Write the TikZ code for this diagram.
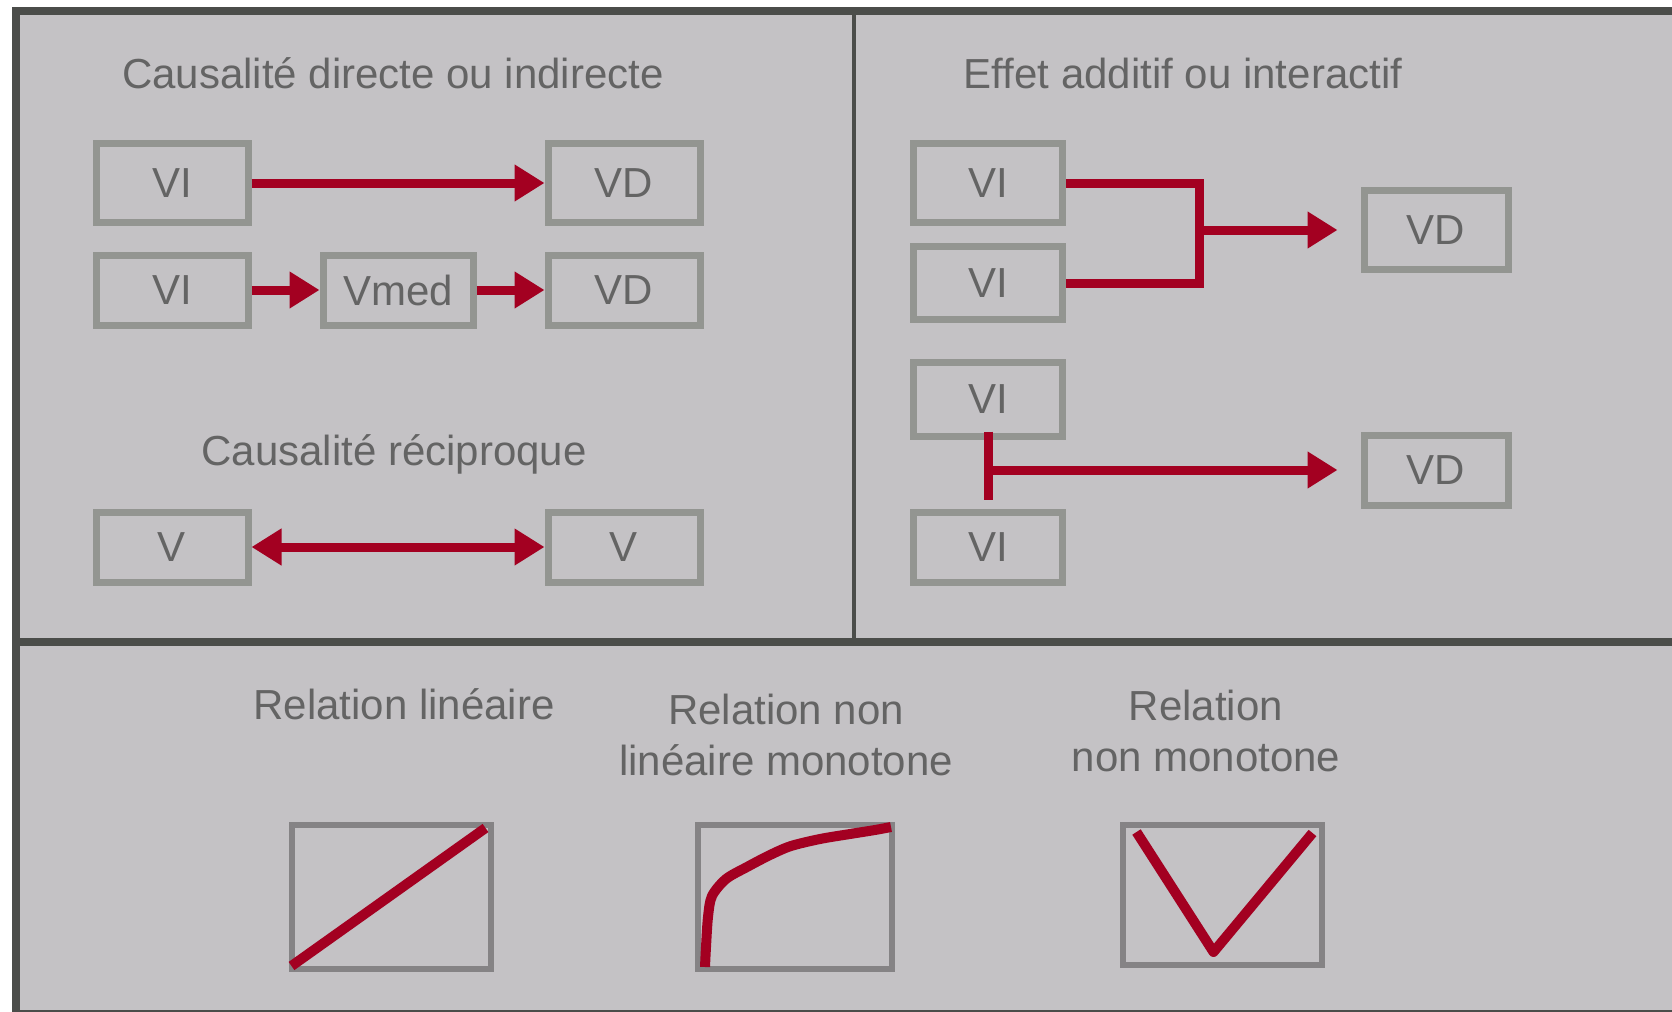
\documentclass[tikz,border=0pt]{standalone}
\usepackage{fontspec}
\setmainfont{Liberation Sans}
\usetikzlibrary{arrows.meta}
\definecolor{panelgrey}{RGB}{196,194,197}
\definecolor{framegrey}{RGB}{75,77,74}
\definecolor{boxgrey}{RGB}{147,149,145}
\definecolor{plotgrey}{RGB}{133,131,133}
\definecolor{txtgrey}{RGB}{100,100,100}
\definecolor{causered}{RGB}{163,0,33}
\tikzset{
        x=0.5pt, y=-0.5pt,
        every node/.style={font=\fontsize{21}{25.5}\selectfont, text=txtgrey},
        frame/.style={draw=framegrey, line width=4pt},
        var/.style={rectangle, draw=boxgrey, line width=3.5pt, minimum width=76pt, minimum height=35pt, inner sep=0pt},
        tall/.style={minimum height=39.5pt},
        narrow/.style={minimum width=74.5pt},
        plotbox/.style={rectangle, draw=plotgrey, line width=3pt, minimum width=99.5pt, minimum height=72pt, inner sep=0pt},
        link/.style={draw=causered, line width=4.5pt},
        arr/.style={link, -{Triangle[length=15pt, width=17.5pt]}},
        darr/.style={link, {Triangle[length=15pt, width=17.5pt]}-{Triangle[length=15pt, width=17.5pt]}},
        curve/.style={draw=causered, line width=5pt, line join=round},
        title/.style={anchor=base, align=center}
          }

\begin{document}
\begin{tikzpicture}
            % background and frame
            \useasboundingbox[fill=white] (0,0) rectangle (1672,1012);
            \fill[panelgrey] (16,11) rectangle (1672,1012);
            \draw[frame] (1672,11) -- (16,11) -- (16,1012);
            \draw[frame] (16,642) -- (1672,642);
            \draw[frame, line width=2pt] (854,11) -- (854,642);
            \draw[frame, line width=1pt] (16,1011) -- (1672,1011);

            % direct / indirect
            \node[title] (tdir) at (393,88) {Causalité directe ou indirecte};
            \node[var, tall] (vi1) at (172,183) {VI};
            \node[var, tall] (vd1) at (624,183) {VD};
            \node[var] (vi2) at (172,290) {VI};
            \node[var, minimum width=75pt] (vmed) at (398,290) {Vmed};
            \node[var] (vd2) at (624,290) {VD};
            \draw[arr] (vi1) -- (vd1);
            \draw[arr] (vi2) -- (vmed);
            \draw[arr] (vmed) -- (vd2);

            % reciprocal
            \node[title] (trec) at (394,465) {Causalité réciproque};
            \node[var] (v1) at (172,547) {V};
            \node[var] (v2) at (624,547) {V};
            \draw[darr] (v1) -- (v2);

            % additive
            \node[title] (teff) at (1183,88) {Effet additif ou interactif};
            \node[var, tall, narrow] (via) at (988,183) {VI};
            \node[var, narrow, minimum height=36.5pt] (vib) at (988,283) {VI};
            \node[var, tall, minimum width=72pt] (vda) at (1436,230) {VD};
            \coordinate (join) at (1199,230);
            \draw[link] (via) -| (join) |- (vib);
            \draw[arr, shorten >=11.5pt] (join) -- (vda);

            % interactive
            \node[var, narrow, minimum height=37pt] (vic) at (988,399) {VI};
            \node[var, narrow] (vid) at (988,547) {VI};
            \node[var, minimum width=72pt] (vdb) at (1436,470) {VD};
            \draw[link, shorten <=-4pt, shorten >=4.5pt] (vic) -- (vid);
            \draw[arr, shorten >=11.5pt] (vic |- vdb) -- (vdb);

            % relation shapes
            \node[title] (tlin) at (404,719) {Relation linéaire};
            \node[title] (tmon) at (786,775) {Relation non\\linéaire monotone};
            \node[title] (tnon) at (1206,771) {Relation\\non monotone};
            \node[plotbox] (plin) at (391,897) {};
            \node[plotbox, minimum width=97pt] (pmon) at (795,897) {};
            \node[plotbox, minimum height=70pt] (pnon) at (1222,895) {};
            \begin{scope}[shift={(plin.south west)}]
              \draw[curve] (3,-6) -- (197,-144);
            \end{scope}
            \begin{scope}[shift={(pmon.south west)}]
              \draw[curve] plot[smooth] coordinates {(10,-5) (11,-25) (13,-55) (17,-76) (31,-93) (52,-105) (75,-117) (96,-126) (125,-133) (155,-138) (180,-142) (196,-145)};
            \end{scope}
            \begin{scope}[shift={(pnon.south west)}]
              \draw[curve] (17,-136) -- (94,-16) -- (193,-135);
            \end{scope}
\end{tikzpicture}
\end{document}
